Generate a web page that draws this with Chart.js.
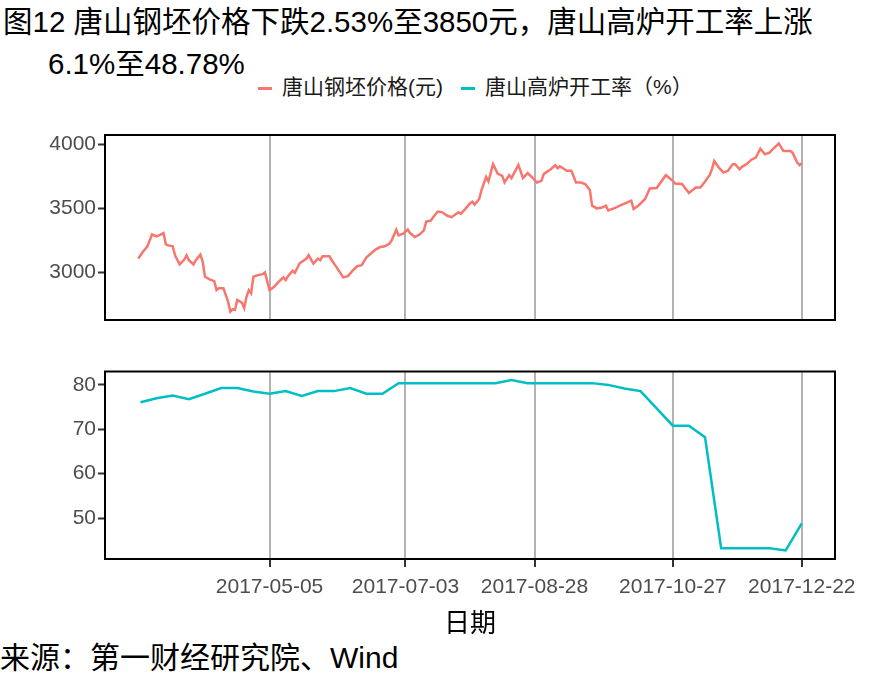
<!DOCTYPE html>
<html>
<head>
<meta charset="utf-8">
<title>唐山钢坯价格与高炉开工率</title>
<script src="https://cdn.jsdelivr.net/npm/chart.js"></script>
<style>
body { margin: 0; background: #fff; }
#wrap { position: relative; width: 885px; height: 688px; overflow: hidden;
        font-family: "Liberation Sans", "Noto Sans CJK SC", sans-serif; }
.title { position: absolute; font-size: 29.5px; line-height: 34px; color: #000; white-space: nowrap; }
#t1 { left: 3px; top: 5px; }
#t2 { left: 48px; top: 47px; }
#legend { position: absolute; left: 258px; top: 74px; font-size: 21px; line-height: 26px;
          color: #1a1a1a; white-space: nowrap; }
#legend span.item { margin-right: 18px; }
.key { display: inline-block; width: 14px; height: 3px; vertical-align: middle; margin-right: 10px; }
#source { position: absolute; left: 0; top: 641px; font-size: 30px; line-height: 34px; color: #000; white-space: nowrap; }
canvas { position: absolute; left: 0; }
#topChart { top: 120px; }
#bottomChart { top: 360px; }
</style>
</head>
<body>
<div id="wrap">
  <div class="title" id="t1">图12 唐山钢坯价格下跌2.53%至3850元，唐山高炉开工率上涨</div>
  <div class="title" id="t2">6.1%至48.78%</div>
  <div id="legend">
    <span class="item"><span class="key" style="background:#F8766D"></span>唐山钢坯价格(元)</span><span class="item"><span class="key" style="background:#00BFC4"></span>唐山高炉开工率（%）</span>
  </div>
  <canvas id="topChart" width="885" height="210"></canvas>
  <canvas id="bottomChart" width="885" height="280"></canvas>
  <div id="source">来源：第一财经研究院、Wind</div>
</div>

<script>
// 唐山钢坯价格 (元), daily
var priceDates = [
  '2017-03-09','2017-03-11','2017-03-13','2017-03-14','2017-03-15','2017-03-17','2017-03-18','2017-03-20',
  '2017-03-21','2017-03-22','2017-03-24','2017-03-25','2017-03-27','2017-03-29','2017-03-30','2017-03-31',
  '2017-04-02','2017-04-03','2017-04-05','2017-04-06','2017-04-07','2017-04-09','2017-04-11','2017-04-12',
  '2017-04-13','2017-04-15','2017-04-16','2017-04-17','2017-04-18','2017-04-19','2017-04-20','2017-04-21',
  '2017-04-23','2017-04-24','2017-04-25','2017-04-26','2017-04-27','2017-04-28','2017-04-30','2017-05-02',
  '2017-05-03','2017-05-05','2017-05-07','2017-05-09','2017-05-11','2017-05-12','2017-05-13','2017-05-15',
  '2017-05-16','2017-05-18','2017-05-21','2017-05-22','2017-05-24','2017-05-26','2017-05-27','2017-05-28',
  '2017-05-31','2017-06-01','2017-06-03','2017-06-06','2017-06-08','2017-06-10','2017-06-12','2017-06-14',
  '2017-06-16','2017-06-18','2017-06-20','2017-06-22','2017-06-24','2017-06-26','2017-06-27','2017-06-29',
  '2017-06-30','2017-07-02','2017-07-04','2017-07-05','2017-07-07','2017-07-09','2017-07-11','2017-07-12',
  '2017-07-14','2017-07-15','2017-07-17','2017-07-19','2017-07-21','2017-07-23','2017-07-26','2017-07-27',
  '2017-07-29','2017-07-31','2017-08-01','2017-08-02','2017-08-04','2017-08-05','2017-08-07','2017-08-08',
  '2017-08-10','2017-08-12','2017-08-14','2017-08-15','2017-08-17','2017-08-18','2017-08-21','2017-08-23',
  '2017-08-25','2017-08-27','2017-08-29','2017-08-31','2017-09-01','2017-09-04','2017-09-06','2017-09-07',
  '2017-09-08','2017-09-11','2017-09-13','2017-09-15','2017-09-17','2017-09-19','2017-09-21','2017-09-22',
  '2017-09-24','2017-09-26','2017-09-28','2017-09-29','2017-10-02','2017-10-04','2017-10-07','2017-10-09',
  '2017-10-10','2017-10-12','2017-10-15','2017-10-17','2017-10-20','2017-10-24','2017-10-27','2017-10-28',
  '2017-10-31','2017-11-03','2017-11-06','2017-11-08','2017-11-10','2017-11-12','2017-11-13','2017-11-14',
  '2017-11-16','2017-11-18','2017-11-20','2017-11-22','2017-11-23','2017-11-25','2017-11-26','2017-11-28',
  '2017-11-30','2017-12-02','2017-12-04','2017-12-06','2017-12-08','2017-12-10','2017-12-12','2017-12-14',
  '2017-12-17','2017-12-18','2017-12-20','2017-12-21','2017-12-22'
];
var priceValues = [
  3106, 3157, 3202, 3248, 3295, 3279, 3287, 3305,
  3217, 3209, 3202, 3132, 3060, 3098, 3132, 3093,
  3060, 3093, 3137, 3080, 2964, 2943, 2930, 2860,
  2874, 2874, 2822, 2770, 2692, 2711, 2705, 2783,
  2762, 2719, 2808, 2860, 2835, 2964, 2977, 2984,
  2998, 2860, 2886, 2925, 2959, 2938, 2969, 3010,
  2995, 3067, 3106, 3132, 3067, 3106, 3093, 3124,
  3124, 3093, 3041, 2959, 2969, 3010, 3046, 3054,
  3114, 3145, 3176, 3196, 3202, 3222, 3248, 3331,
  3287, 3300, 3333, 3305, 3274, 3292, 3326, 3395,
  3403, 3429, 3473, 3467, 3442, 3429, 3467, 3455,
  3494, 3537, 3550, 3527, 3571, 3641, 3744, 3708,
  3843, 3770, 3752, 3700, 3757, 3734, 3837, 3734,
  3773, 3739, 3700, 3713, 3765, 3804, 3835, 3812,
  3827, 3791, 3791, 3700, 3700, 3688, 3641, 3519,
  3498, 3502, 3519, 3481, 3502, 3519, 3543, 3558,
  3494, 3519, 3571, 3653, 3657, 3757, 3713, 3692,
  3688, 3618, 3661, 3661, 3708, 3757, 3804, 3868,
  3816, 3778, 3791, 3843, 3843, 3804, 3822, 3843,
  3876, 3894, 3964, 3920, 3933, 3971, 4005, 3946,
  3946, 3933, 3855, 3835, 3850
];

// 唐山高炉开工率 (%), weekly
var rateDates = [
  '2017-03-10','2017-03-17','2017-03-24','2017-03-31','2017-04-07','2017-04-14','2017-04-21','2017-04-28',
  '2017-05-05','2017-05-12','2017-05-19','2017-05-26','2017-06-02','2017-06-09','2017-06-16','2017-06-23',
  '2017-06-30','2017-07-07','2017-07-14','2017-07-21','2017-07-28','2017-08-04','2017-08-11','2017-08-18',
  '2017-08-25','2017-09-01','2017-09-08','2017-09-15','2017-09-22','2017-09-29','2017-10-06','2017-10-13',
  '2017-10-20','2017-10-27','2017-11-03','2017-11-10','2017-11-17','2017-11-24','2017-12-01','2017-12-08',
  '2017-12-15','2017-12-22'
];
var rateValues = [
  76.1, 77.0, 77.6, 76.8, 78.0, 79.3, 79.3, 78.5,
  78.0, 78.6, 77.5, 78.6, 78.6, 79.3, 78.0, 78.0,
  80.4, 80.4, 80.4, 80.4, 80.4, 80.4, 80.4, 81.1,
  80.4, 80.4, 80.4, 80.4, 80.4, 80.0, 79.2, 78.6,
  74.7, 70.8, 70.8, 68.2, 43.2, 43.2, 43.2, 43.2,
  42.68, 48.78
];

var tickDates = ['2017-05-05', '2017-07-03', '2017-08-28', '2017-10-27', '2017-12-22'];
var priceTicks = [3000, 3500, 4000];
var rateTicks = [50, 60, 70, 80];

var RED = '#F8766D', TEAL = '#00BFC4';
var tickFont = { family: 'Liberation Sans', size: 21 };

function dayOf(s) {
  return Date.UTC(+s.slice(0, 4), +s.slice(5, 7) - 1, +s.slice(8, 10)) / 86400000;
}
function fmtDay(d) {
  return new Date(Math.round(d) * 86400000).toISOString().slice(0, 10);
}
// ggplot style 5% expansion of the data range
function expand(vals) {
  var lo = Math.min.apply(null, vals), hi = Math.max.apply(null, vals);
  var pad = (hi - lo) * 0.05;
  return [lo - pad, hi + pad];
}

var xRange = expand(priceDates.concat(rateDates).map(dayOf));

var panelBorder = {
  id: 'panelBorder',
  afterDatasetsDraw: function(chart) {
    var a = chart.chartArea, ctx = chart.ctx;
    ctx.save();
    ctx.strokeStyle = '#000';
    ctx.lineWidth = 2;
    ctx.strokeRect(a.left, a.top, a.right - a.left, a.bottom - a.top);
    ctx.restore();
  }
};

function xScale(showLabels) {
  return {
    type: 'linear',
    min: xRange[0],
    max: xRange[1],
    afterBuildTicks: function(s) { s.ticks = tickDates.map(function(d) { return { value: dayOf(d) }; }); },
    afterFit: function(s) {
      s.height = showLabels ? 79 : 0;
      s.paddingLeft = 0; s.paddingRight = 0;
    },
    grid: { color: '#b3b3b3', lineWidth: 2, drawTicks: showLabels, tickLength: 8, tickColor: '#333', tickWidth: 2 },
    border: { display: false },
    ticks: {
      display: showLabels, autoSkip: false, maxRotation: 0, padding: 8,
      color: '#4d4d4d', font: tickFont,
      callback: function(v) { return fmtDay(v); }
    },
    title: { display: showLabels, text: '日期', color: '#000', padding: 0,
             font: { family: 'Noto Sans CJK SC', size: 26 } }
  };
}

function yScale(values, ticks) {
  var r = expand(values);
  return {
    min: r[0],
    max: r[1],
    afterBuildTicks: function(s) { s.ticks = ticks.map(function(v) { return { value: v }; }); },
    afterFit: function(s) {
      s.width = 105;
      s.paddingTop = 0; s.paddingBottom = 0;
    },
    grid: { drawOnChartArea: false, tickLength: 7, tickColor: '#333', tickWidth: 2 },
    border: { display: false },
    ticks: { padding: 2, color: '#4d4d4d', font: tickFont,
             callback: function(v) { return String(v); } }
  };
}

function lineConfig(dates, values, color, ticks, showX, padding) {
  return {
    type: 'line',
    data: {
      datasets: [{
        data: dates.map(function(d, i) { return { x: dayOf(d), y: values[i] }; }),
        borderColor: color,
        borderWidth: 2.5,
        pointRadius: 0,
        tension: 0,
        fill: false
      }]
    },
    options: {
      responsive: false,
      animation: false,
      devicePixelRatio: 1,
      layout: { padding: padding },
      plugins: { legend: { display: false }, tooltip: { enabled: false } },
      scales: { x: xScale(showX), y: yScale(values, ticks) }
    },
    plugins: [panelBorder]
  };
}

new Chart(document.getElementById('topChart'),
  lineConfig(priceDates, priceValues, RED, priceTicks, false, { left: 0, right: 50, top: 15, bottom: 10 }));

new Chart(document.getElementById('bottomChart'),
  lineConfig(rateDates, rateValues, TEAL, rateTicks, true, { left: 0, right: 50, top: 11.5, bottom: 2 }));
</script>
</body>
</html>
